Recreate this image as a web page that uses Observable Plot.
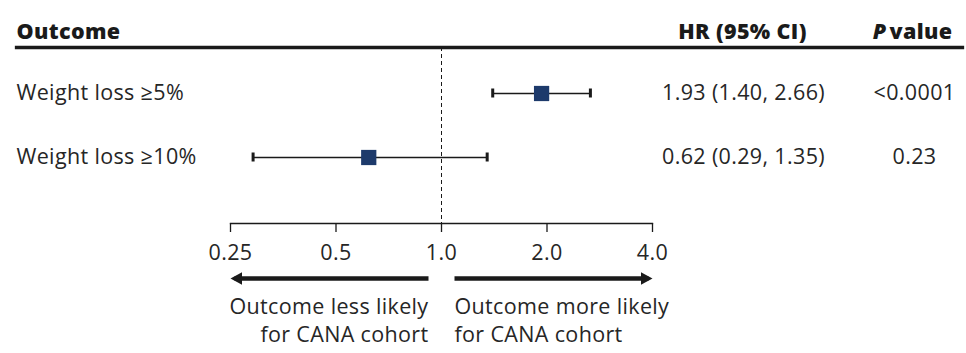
<!DOCTYPE html>
<html>
<head>
<meta charset="utf-8">
<script src="https://cdn.jsdelivr.net/npm/d3@7"></script>
<script src="https://cdn.jsdelivr.net/npm/@observablehq/plot@0.6"></script>
<style>
  html, body { margin: 0; padding: 0; background: #ffffff; }
  #chart svg { display: block; }
</style>
</head>
<body>
<div id="chart"></div>
<script>
// ---- data ----
const outcomes = ["Weight loss ≥5%", "Weight loss ≥10%"];
const hazardRatios = [1.93, 0.62];
const ciLower = [1.40, 0.29];
const ciUpper = [2.66, 1.35];
const hrLabels = ["1.93 (1.40, 2.66)", "0.62 (0.29, 1.35)"];
const pValues = ["<0.0001", "0.23"];
const headers = ["Outcome", "HR (95% CI)", "P", "value"];
const xTicks = [0.25, 0.5, 1, 2, 4];
const xTickLabels = ["0.25", "0.5", "1.0", "2.0", "4.0"];
const directionLabels = ["Outcome less likely\nfor CANA cohort", "Outcome more likely\nfor CANA cohort"];
const referenceHR = 1;

// ---- tables built from the arrays ----
const rows = outcomes.map((o, i) => ({
  outcome: o, hr: hazardRatios[i], lo: ciLower[i], hi: ciUpper[i],
  ci: hrLabels[i], p: pValues[i]
}));
const arrows = [
  {from: referenceHR, to: xTicks[0], label: directionLabels[0], side: "left"},
  {from: referenceHR, to: xTicks[xTicks.length - 1], label: directionLabels[1], side: "right"}
];
const arrowRow = outcomes[outcomes.length - 1];

const FONT = "'Open Sans', Lato, sans-serif";
const FS = 21.5;
const TEXT = "#262626";
const INK = "#1a1a1a";
const NAVY = "#1d3a6b";

// arrowhead symbols with the tip at the origin
const headRight = {draw(ctx, size) { const s = Math.sqrt(size); ctx.moveTo(0, 0); ctx.lineTo(-s, -0.55 * s); ctx.lineTo(-s, 0.55 * s); ctx.closePath(); }};
const headLeft = {draw(ctx, size) { const s = Math.sqrt(size); ctx.moveTo(0, 0); ctx.lineTo(s, -0.55 * s); ctx.lineTo(s, 0.55 * s); ctx.closePath(); }};

const chart = Plot.plot({
  width: 966,
  height: 353,
  marginTop: 47,
  marginBottom: 130,
  marginLeft: 230,
  marginRight: 314,
  style: {fontFamily: FONT, fontSize: FS + "px", color: TEXT, background: "#ffffff", letterSpacing: "0.35px"},
  x: {type: "log", domain: [xTicks[0], xTicks[xTicks.length - 1]]},
  y: {type: "point", domain: outcomes, range: [93, 157], padding: 0, axis: null},
  marks: [
    // header rule
    Plot.frame({anchor: "top", stroke: INK, strokeWidth: 3.3, insetLeft: -214, insetRight: -310}),
    // axis line
    Plot.frame({anchor: "bottom", stroke: INK, strokeWidth: 1.3}),
    Plot.axisX({ticks: xTicks, tickFormat: d => xTickLabels[xTicks.indexOf(d)], tickSize: 9, tickPadding: 12,
      label: null, stroke: INK, strokeWidth: 1.3, fill: TEXT, fontSize: FS}),
    // line of no effect
    Plot.ruleX([referenceHR], {stroke: INK, strokeWidth: 1, strokeDasharray: "4,3"}),
    // confidence intervals
    Plot.ruleY(rows, {y: "outcome", x1: "lo", x2: "hi", stroke: INK, strokeWidth: 1.4}),
    Plot.ruleX(rows, {x: "lo", y1: "outcome", y2: "outcome", stroke: INK, strokeWidth: 3, insetTop: -4.5, insetBottom: -4.5}),
    Plot.ruleX(rows, {x: "hi", y1: "outcome", y2: "outcome", stroke: INK, strokeWidth: 3, insetTop: -4.5, insetBottom: -4.5}),
    Plot.dot(rows, {x: "hr", y: "outcome", symbol: "square", r: 8.6, fill: NAVY, stroke: null}),
    // table text
    Plot.text(rows, {y: "outcome", text: "outcome", frameAnchor: "left", dx: -214, textAnchor: "start", fill: TEXT, fontSize: FS}),
    Plot.text(rows, {y: "outcome", text: "ci", frameAnchor: "right", dx: 91, textAnchor: "middle", fill: TEXT, fontSize: FS}),
    Plot.text(rows, {y: "outcome", text: "p", frameAnchor: "right", dx: 262, textAnchor: "middle", fill: TEXT, fontSize: FS}),
    // headers
    Plot.text([headers[0]], {frameAnchor: "top-left", dx: -214, dy: -24, textAnchor: "start", fontWeight: 800, fill: INK, fontSize: FS}),
    Plot.text([headers[1]], {frameAnchor: "top-right", dx: 90, dy: -24, textAnchor: "middle", fontWeight: 800, fill: INK, fontSize: FS}),
    Plot.text([headers[2]], {frameAnchor: "top-right", dx: 234, dy: -24, textAnchor: "end", fontWeight: 800, fontStyle: "italic", fill: INK, fontSize: FS}),
    Plot.text([headers[3]], {frameAnchor: "top-right", dx: 237, dy: -24, textAnchor: "start", fontWeight: 800, fill: INK, fontSize: FS}),
    // direction arrows
    Plot.arrow(arrows, {x1: "from", x2: "to", y1: () => arrowRow, y2: () => arrowRow, dy: 121,
      insetStart: 13, insetEnd: 4, headLength: 0, stroke: INK, strokeWidth: 4.5, strokeLinecap: "butt"}),
    Plot.dot(arrows.filter(d => d.side === "left"), {x: "to", y: () => arrowRow, dy: 121, symbol: headLeft, r: 6.5, fill: INK, stroke: null}),
    Plot.dot(arrows.filter(d => d.side === "right"), {x: "to", y: () => arrowRow, dy: 121, symbol: headRight, r: 6.5, fill: INK, stroke: null}),
    Plot.text(arrows.filter(d => d.side === "left"), {x: "from", y: () => arrowRow, text: "label", dy: 162, dx: -13,
      textAnchor: "end", lineHeight: 1.3, fill: TEXT, fontSize: FS}),
    Plot.text(arrows.filter(d => d.side === "right"), {x: "from", y: () => arrowRow, text: "label", dy: 162, dx: 13,
      textAnchor: "start", lineHeight: 1.3, fill: TEXT, fontSize: FS})
  ]
});
document.getElementById("chart").appendChild(chart);
</script>
</body>
</html>
